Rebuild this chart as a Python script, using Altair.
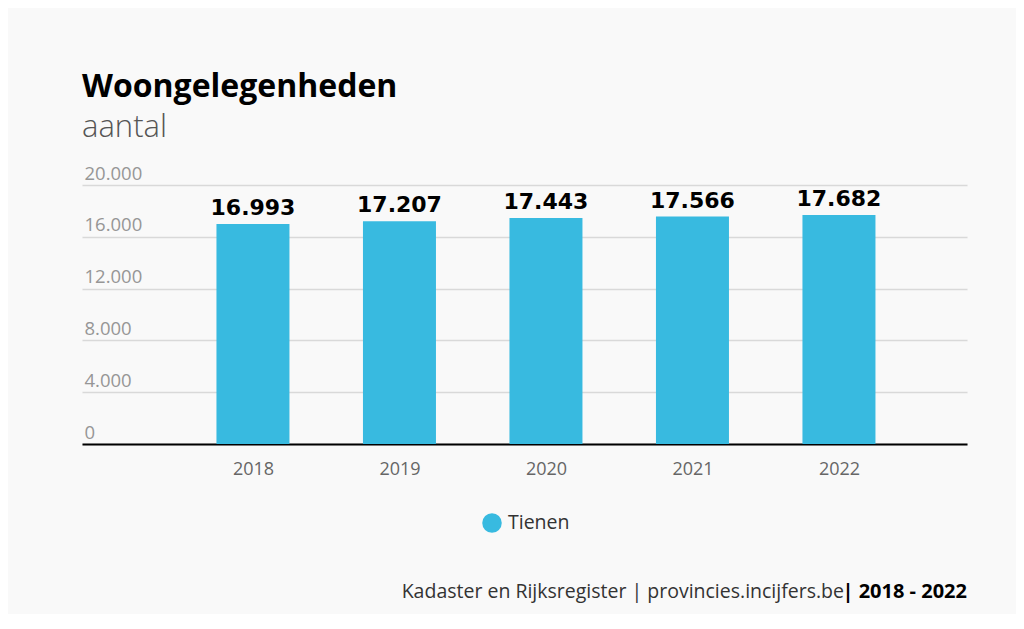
import altair as alt
import pandas as pd

years = [2018, 2019, 2020, 2021, 2022]
values = [16993, 17207, 17443, 17566, 17682]
series = ["Tienen"] * 5
y_ticks = [0, 4000, 8000, 12000, 16000, 20000]
footer_regular = "Kadaster en Rijksregister | provincies.incijfers.be"
footer_bold = "| 2018 - 2022"

df = pd.DataFrame({"jaar": years, "aantal": values, "gemeente": series})

BAR = "#38bae0"
FONT = "Open Sans"

base = alt.Chart(df)

bars = base.mark_bar(width=73).encode(
    x=alt.X(
        "jaar:Q",
        scale=alt.Scale(domain=[2016.833, 2022.874], nice=False, zero=False,
                        padding=0),
        axis=alt.Axis(
            values=years, format="d", title=None, grid=False, ticks=False,
            domainColor="#000000", domainWidth=2, labelColor="#666666",
            labelFontSize=18, labelPadding=16, labelFont=FONT,
        ),
    ),
    y=alt.Y(
        "aantal:Q",
        scale=alt.Scale(domain=[0, 20000], nice=False, padding=0),
        axis=alt.Axis(
            values=y_ticks, title=None, domain=False, ticks=False,
            gridColor="#d9d9d9", gridWidth=1.5,
            labelAlign="left", labelBaseline="bottom", labelPadding=-2,
            labelOffset=-2, labelColor="#969696", labelFontSize=18.5,
            labelFont=FONT,
            labelExpr="replace(format(datum.value, ','), ',', '.')",
        ),
    ),
    color=alt.Color(
        "gemeente:N",
        scale=alt.Scale(range=[BAR]),
        legend=alt.Legend(
            title=None, orient="none", legendX=400, legendY=328,
            symbolType="circle", symbolSize=380, symbolStrokeWidth=0,
            labelFontSize=19.5, labelColor="#333333", labelFont=FONT,
            symbolOpacity=1, labelOffset=6,
        ),
    ),
)

labels = base.transform_calculate(
    lbl="replace(format(datum.aantal, ','), ',', '.')"
).mark_text(
    font="DejaVu Sans", fontWeight="bold", fontSize=22, color="#000000",
    baseline="bottom", dy=-4,
).encode(
    x=alt.X("jaar:Q"),
    y=alt.Y("aantal:Q"),
    text="lbl:N",
)

foot1 = alt.Chart(pd.DataFrame({"t": [footer_regular]})).mark_text(
    font=FONT, fontSize=19.5, color="#333333", align="right", baseline="alphabetic"
).encode(x=alt.value(762), y=alt.value(413), text="t:N")

foot2 = alt.Chart(pd.DataFrame({"t": [footer_bold]})).mark_text(
    font=FONT, fontSize=20, fontWeight="bold", color="#000000", align="right",
    baseline="alphabetic"
).encode(x=alt.value(885), y=alt.value(413), text="t:N")

chart = alt.layer(bars, labels, foot1, foot2).properties(
    width=885,
    height=259,
    title=alt.TitleParams(
        text="Woongelegenheden",
        subtitle="aantal",
        anchor="start",
        font=FONT, fontSize=32, fontWeight="bold", color="#000000",
        subtitleFont=FONT, subtitleFontSize=31, subtitleFontWeight=300,
        subtitleColor="#555555", offset=20, subtitlePadding=9,
    ),
    autosize=alt.AutoSizeParams(type="none"),
    padding={"left": 74, "top": 177, "right": 49, "bottom": 170},
    background="#f9f9f9",
).configure_view(stroke=None)

chart.save("out.html", embed_options={"renderer": "svg", "actions": False})
